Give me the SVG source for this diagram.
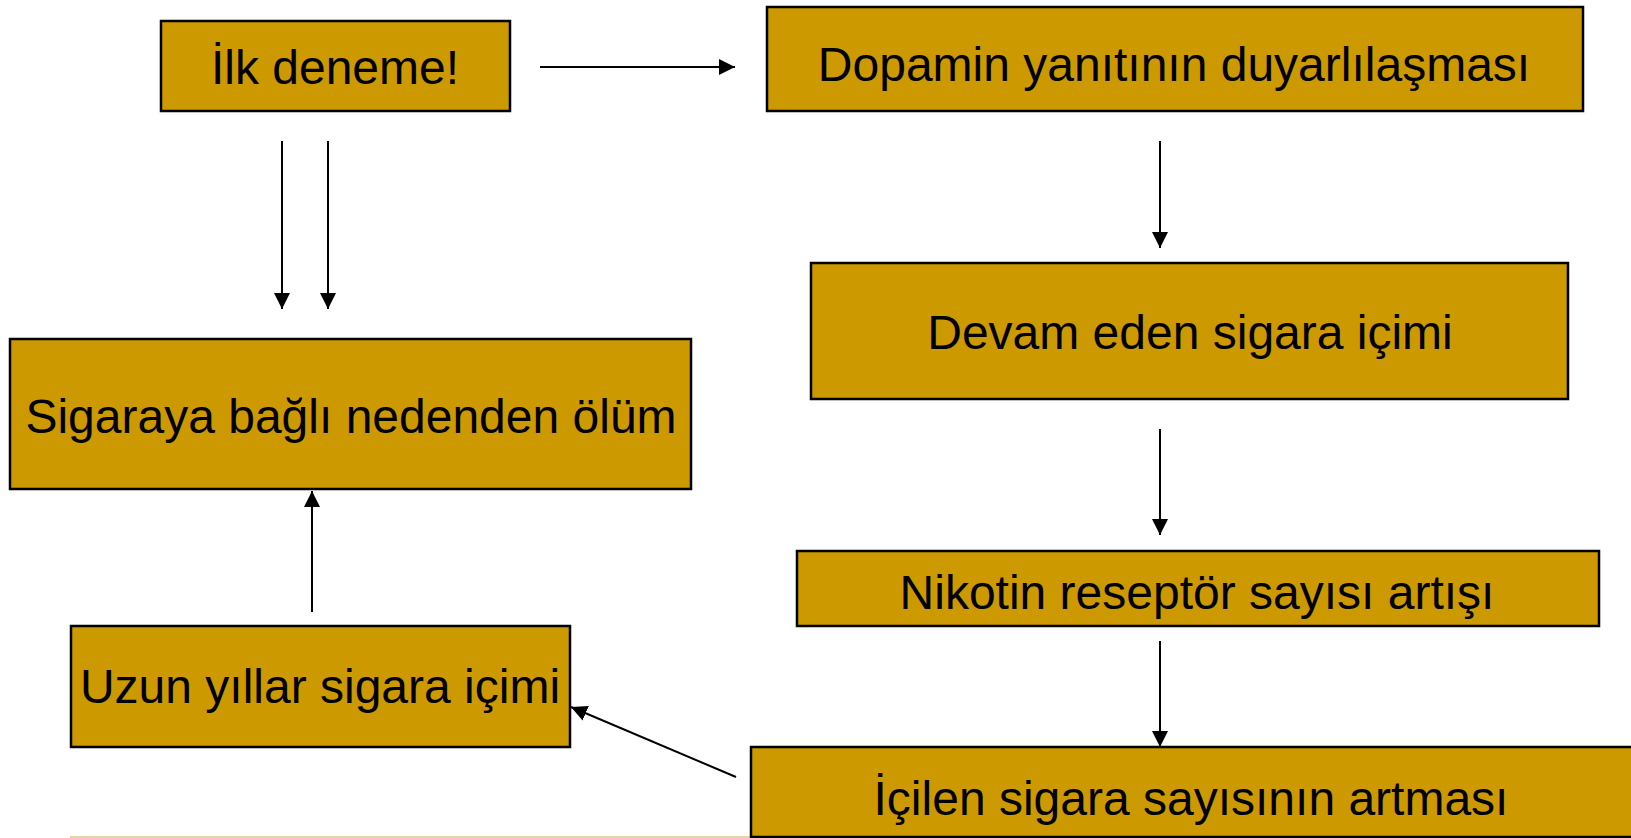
<svg xmlns="http://www.w3.org/2000/svg" width="1631" height="838" viewBox="0 0 1631 838">
<style>
.box{fill:#CC9900;stroke:#000;stroke-width:2.5}
.lbl{font-family:"Liberation Sans",Arial,sans-serif;font-size:48px;fill:#000;text-anchor:middle}
.con{stroke:#000;stroke-width:2;fill:none;marker-end:url(#ah)}
</style>
<defs>
<marker id="ah" markerUnits="userSpaceOnUse" markerWidth="18" markerHeight="18" refX="16" refY="8" orient="auto">
<path d="M0,0 L16,8 L0,16 Z" fill="#000"/>
</marker>
</defs>
<rect width="1631" height="838" fill="#fff"/>
<line x1="70" y1="837" x2="1631" y2="837" stroke="#dcc68c" stroke-width="1.5"/>
<g id="n1"><rect class="box" x="161" y="21" width="349" height="90"/><text class="lbl" x="335" y="84">İlk deneme!</text></g>
<g id="n2"><rect class="box" x="767" y="7" width="816" height="104"/><text class="lbl" x="1174" y="81">Dopamin yanıtının duyarlılaşması</text></g>
<g id="n3"><rect class="box" x="811" y="263" width="757" height="136"/><text class="lbl" x="1190" y="349">Devam eden sigara içimi</text></g>
<g id="n4"><rect class="box" x="797" y="551" width="802" height="75"/><text class="lbl" x="1197" y="609">Nikotin reseptör sayısı artışı</text></g>
<g id="n5"><rect class="box" x="751" y="747" width="890" height="90"/><text class="lbl" x="1191" y="815">İçilen sigara sayısının artması</text></g>
<g id="n6"><rect class="box" x="10" y="339" width="681" height="150"/><text class="lbl" x="351" y="433">Sigaraya bağlı nedenden ölüm</text></g>
<g id="n7"><rect class="box" x="71" y="626" width="499" height="121"/><text class="lbl" x="320" y="703">Uzun yıllar sigara içimi</text></g>
<g id="connectors">
<line class="con" x1="540" y1="67" x2="735" y2="67"/>
<line class="con" x1="282" y1="141" x2="282" y2="309"/>
<line class="con" x1="328" y1="141" x2="328" y2="309"/>
<line class="con" x1="1160" y1="141" x2="1160" y2="248"/>
<line class="con" x1="1160" y1="429" x2="1160" y2="535"/>
<line class="con" x1="1160" y1="641" x2="1160" y2="747"/>
<line class="con" x1="312" y1="612" x2="312" y2="491"/>
<line class="con" x1="736" y1="777" x2="571" y2="707"/>
</g>
</svg>
